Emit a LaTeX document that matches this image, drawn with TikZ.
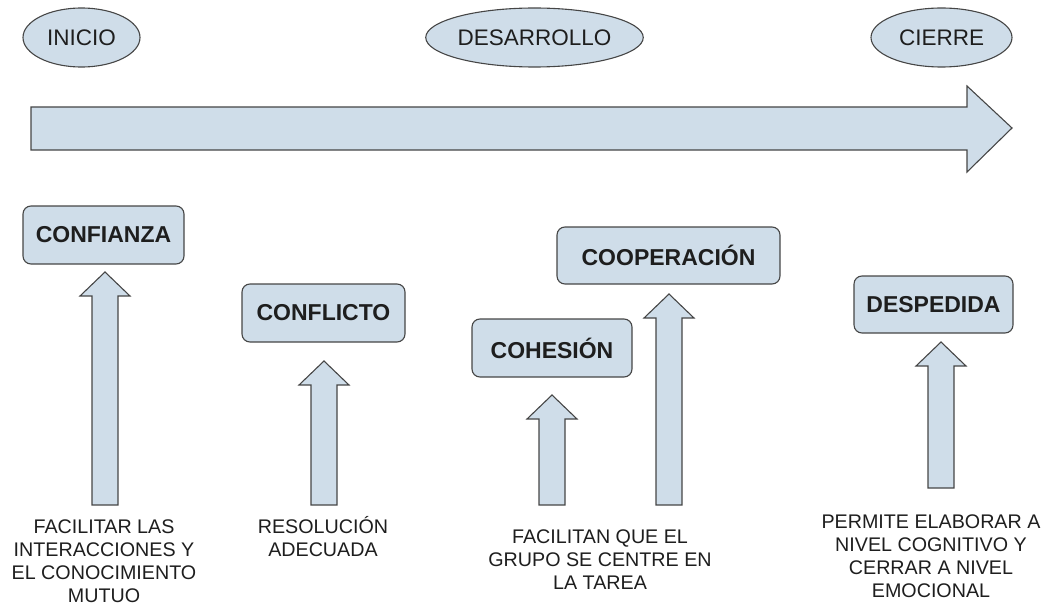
\documentclass[tikz,border=0pt]{standalone}
\usepackage{fontspec}
\setmainfont{Liberation Sans}
\usetikzlibrary{shapes.geometric}

\definecolor{paleblue}{RGB}{207,221,233}
\definecolor{edgegrey}{RGB}{70,70,70}
\definecolor{inkgrey}{RGB}{30,30,30}

\tikzset{
  phase/.style={ellipse, draw=edgegrey, line width=1.1pt, fill=paleblue, inner sep=0pt,
    minimum height=59pt, text=inkgrey, font=\fontsize{22.5}{26}\selectfont},
  stage/.style={rectangle, rounded corners=8pt, draw=edgegrey, line width=1.1pt, fill=paleblue,
    minimum height=58pt, inner sep=0pt, text=inkgrey, font=\fontsize{23}{26}\selectfont\bfseries},
  note/.style={align=center, inner sep=0pt, anchor=base, text=inkgrey,
    font=\fontsize{19.7}{23}\selectfont},
  blockarrow/.style={draw=edgegrey, line width=1.1pt, fill=paleblue, line join=miter}
}

% upward block arrow: centre x, bottom y, tip y
\newcommand{\upblock}[3]{%
  \draw[blockarrow] (#1-13,#2) -- (#1+13,#2) -- (#1+13,#3+24) -- (#1+25,#3+24) -- (#1,#3)
    -- (#1-25,#3+24) -- (#1-13,#3+24) -- cycle;}

\begin{document}
\begin{tikzpicture}[x=1pt, y=-1pt]
\useasboundingbox (0,0) rectangle (1049,607);

%% phases
\node[phase, minimum width=117pt] (inicio) at (81.5,37.5) {INICIO};
\node[phase, minimum width=191pt] (desarrollo) at (534.5,37.5) {DESARROLLO};
\node[phase, minimum width=141pt] (cierre) at (941.5,37.5) {CIERRE};

%% timeline
\draw[blockarrow] (31,107) -- (967,107) -- (967,86) -- (1012,128) -- (967,172) -- (967,150) -- (31,150) -- cycle;

%% stages
\node[stage, minimum width=161pt] (confianza) at (103.5,235) {CONFIANZA};
\node[stage, minimum width=163pt] (conflicto) at (323.5,313) {CONFLICTO};
\node[stage, minimum width=160pt] (cohesion) at (552,348) {COHESIÓN};
\node[stage, minimum width=223pt, minimum height=57pt] (cooperacion) at (668.5,255.5) {COOPERACIÓN};
\node[stage, minimum width=159pt, minimum height=57pt] (despedida) at (933.5,304.5) {DESPEDIDA};

%% arrows up
\upblock{105}{505}{272} %%Confianza
\upblock{324}{505}{361} %%Conflicto
\upblock{552}{505}{395} %%Cohesion
\upblock{669}{505}{294} %%Cooperacion
\upblock{941}{488}{342} %%Despedida

%% notes (placed by the baseline of their last line)
\node[note] (notaconfianza) at (104,602) {FACILITAR LAS\\INTERACCIONES Y\\EL CONOCIMIENTO\\MUTUO};
\node[note] (notaconflicto) at (323,556) {RESOLUCIÓN\\ADECUADA};
\node[note] (notagrupo) at (600,589) {FACILITAN QUE EL\\GRUPO SE CENTRE EN\\LA TAREA};
\node[note] (notadespedida) at (931,597) {PERMITE ELABORAR A\\NIVEL COGNITIVO Y\\CERRAR A NIVEL\\EMOCIONAL};
\end{tikzpicture}
\end{document}
